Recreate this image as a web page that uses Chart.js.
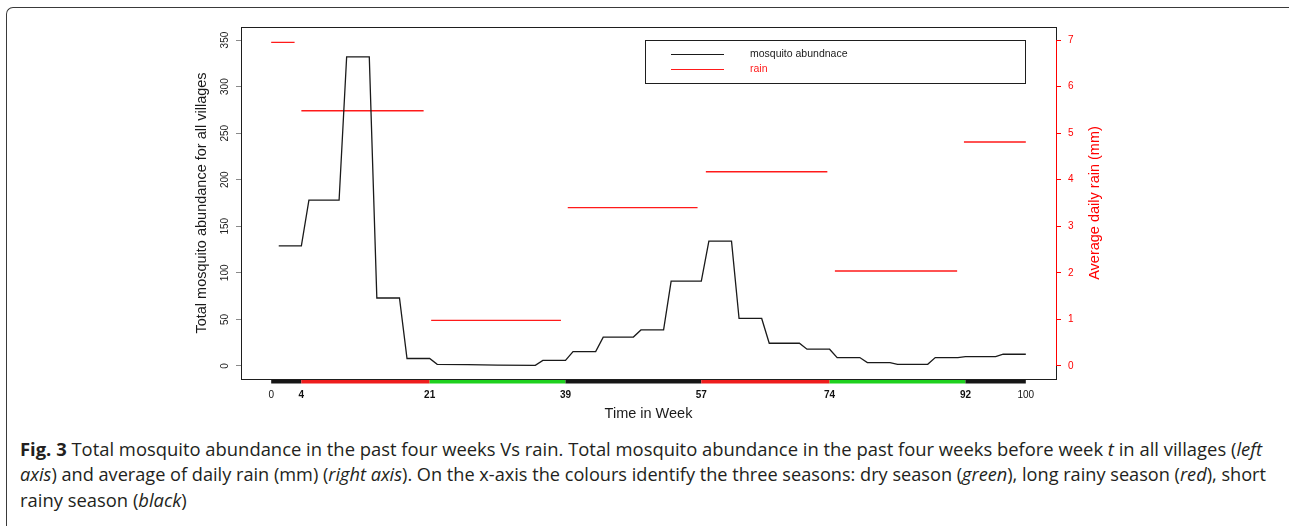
<!DOCTYPE html>
<html>
<head>
<meta charset="utf-8">
<script src="https://cdn.jsdelivr.net/npm/chart.js@4.4.1/dist/chart.umd.min.js"></script>
<style>
  html, body { margin: 0; padding: 0; background: #fff; }
  #wrap { position: relative; width: 1289px; height: 526px; overflow: hidden; }
  #frame { position: absolute; left: 6px; top: 7px; width: 1320px; height: 560px;
           border-left: 1px solid #3a3a3a; border-top: 1px solid #3a3a3a; border-top-left-radius: 7px; }
  #c { position: absolute; left: 0; top: 0; }
  .cap { position: absolute; left: 20px; white-space: nowrap; font-family: "Open Sans", sans-serif;
         font-size: 18px; line-height: 20px; color: #231f20; transform-origin: 0 50%; }
  .cap b { font-weight: 700; }
</style>
</head>
<body>
<div id="wrap">
  <div id="frame"></div>
  <canvas id="c" width="1289" height="430"></canvas>
  <div class="cap" id="cap1" data-w="1242" style="top:439px"><b>Fig. 3</b> Total mosquito abundance in the past four weeks Vs rain. Total mosquito abundance in the past four weeks before week <i>t</i> in all villages (<i>left</i></div>
  <div class="cap" id="cap2" data-w="1246" style="top:464px"><i>axis</i>) and average of daily rain (mm) (<i>right axis</i>). On the x-axis the colours identify the three seasons: dry season (<i>green</i>), long rainy season (<i>red</i>), short</div>
  <div class="cap" id="cap3" style="top:490px">rainy season (<i>black</i>)</div>
</div>
<script>
// Total mosquito abundance (past four weeks) at the corners of the weekly step line
const weeks = [1, 4, 5, 9, 10, 13, 14, 17, 18, 21, 22, 26, 30, 35, 36, 39, 40, 43, 44, 48, 49, 52,
               53, 57, 58, 61, 62, 65, 66, 70, 71, 74, 75, 78, 79, 82, 83, 87, 88, 91, 92, 96, 97, 100];
const abundance = [129, 129, 178, 178, 332, 332, 73, 73, 8, 8, 1.8, 1.5, 1, 0.6, 6, 6, 15.4, 15.4, 31, 31, 38.7, 38.7,
                   91, 91, 134, 134, 51, 51, 24.4, 24.4, 18, 18, 9, 9, 3.6, 3.6, 1.8, 1.8, 9, 9, 10, 10, 12.6, 12.6];

// Average daily rain (mm) per season
const rainStart = [0, 4, 21.2, 39.3, 57.6, 74.7, 91.8];
const rainEnd   = [3.1, 20.2, 38.4, 56.5, 73.7, 90.9, 100];
const rainValue = [6.95, 5.48, 0.98, 3.40, 4.17, 2.04, 4.81];

// Seasons along the time axis
const seasonBreaks = [0, 4, 21, 39, 57, 74, 92, 100];
const seasonKind = ['short', 'long', 'dry', 'short', 'long', 'dry', 'short'];
const seasonColour = { short: '#161616', long: '#ee1d1d', dry: '#1fd11f' };

// Tick labels
const weekTicks = [0, 4, 21, 39, 57, 74, 92, 100];
const abundanceTicks = [0, 50, 100, 150, 200, 250, 300, 350];
const rainTicks = [0, 1, 2, 3, 4, 5, 6, 7];

const FONT = '"Liberation Sans", Arial, Helvetica, sans-serif';
Chart.defaults.font.family = FONT;

const abundancePoints = weeks.map((w, i) => ({ x: w, y: abundance[i] }));
const rainPoints = [];
rainValue.forEach((v, i) => {
  rainPoints.push({ x: rainStart[i], y: v }, { x: rainEnd[i], y: v }, { x: rainEnd[i], y: null });
});

const frameAndDecor = {
  id: 'frameAndDecor',
  afterDraw(chart) {
    const { ctx, chartArea: a, scales } = chart;
    const xs = scales.x, r = scales.y2;
    ctx.save();

    // season band under the x axis
    for (let i = 0; i < seasonKind.length; i++) {
      const x0 = xs.getPixelForValue(seasonBreaks[i]);
      const x1 = xs.getPixelForValue(seasonBreaks[i + 1]);
      ctx.fillStyle = seasonColour[seasonKind[i]];
      ctx.fillRect(x0, a.bottom + 1, x1 - x0, 3.5);
    }

    // plot box
    ctx.strokeStyle = '#1e1e1e';
    ctx.lineWidth = 1;
    ctx.strokeRect(Math.round(a.left) + 0.5, Math.round(a.top) + 0.5,
                   Math.round(a.right - a.left), Math.round(a.bottom - a.top));

    // red rain axis line between the first and last tick
    ctx.strokeStyle = '#ff0000';
    ctx.beginPath();
    ctx.moveTo(Math.round(a.right) + 0.5, r.getPixelForValue(rainTicks[0]));
    ctx.lineTo(Math.round(a.right) + 0.5, r.getPixelForValue(rainTicks[rainTicks.length - 1]));
    ctx.stroke();

    // right axis title, reading upwards
    ctx.fillStyle = '#ff0000';
    ctx.font = '14.5px ' + FONT;
    ctx.textAlign = 'center';
    ctx.textBaseline = 'middle';
    ctx.translate(r.left + 38.5, (a.top + a.bottom) / 2);
    ctx.rotate(-Math.PI / 2);
    ctx.fillText('Average daily rain (mm)', 0, 0);
    ctx.restore();

    // legend box
    ctx.save();
    ctx.strokeStyle = '#1e1e1e';
    ctx.lineWidth = 1;
    ctx.strokeRect(645.5, 40.5, 380, 43);
    ctx.font = '10.5px ' + FONT;
    ctx.textBaseline = 'middle';
    ctx.textAlign = 'left';
    chart.data.datasets.forEach((ds, i) => {
      const y = 54.5 + i * 15;
      ctx.strokeStyle = ds.borderColor;
      ctx.lineWidth = 1.2;
      ctx.beginPath();
      ctx.moveTo(671, y);
      ctx.lineTo(724, y);
      ctx.stroke();
      ctx.fillStyle = ds.legendTextColour;
      ctx.fillText(ds.label, 750, y);
    });
    ctx.restore();
  }
};

new Chart(document.getElementById('c'), {
  type: 'line',
  data: {
    datasets: [
      { label: 'mosquito abundnace', data: abundancePoints, yAxisID: 'y',
        borderColor: '#1a1a1a', legendTextColour: '#1a1a1a', borderWidth: 1.3,
        pointRadius: 0, tension: 0, fill: false },
      { label: 'rain', data: rainPoints, yAxisID: 'y2', spanGaps: false,
        borderColor: '#ff1a1a', legendTextColour: '#ff1a1a', borderWidth: 1.4,
        pointRadius: 0, tension: 0, fill: false }
    ]
  },
  options: {
    responsive: false,
    devicePixelRatio: 1,
    animation: false,
    layout: { padding: { top: 27, left: 0, right: 0, bottom: 0 } },
    plugins: { legend: { display: false }, tooltip: { enabled: false } },
    scales: {
      x: {
        type: 'linear', position: 'bottom', min: -4, max: 104,
        afterBuildTicks: s => { s.ticks = weekTicks.map(v => ({ value: v })); },
        afterFit: s => { s.height = 51; },
        grid: { display: false },
        border: { display: false },
        ticks: {
          autoSkip: false, maxRotation: 0, padding: 2, color: '#111',
          font: c => ({ size: 10, weight: (c.tick && (c.tick.value === 0 || c.tick.value === 100)) ? 'normal' : 'bold' })
        },
        title: { display: true, text: 'Time in Week', color: '#1a1a1a',
                 font: { size: 14.5, lineHeight: 1.2 }, padding: { top: 0, bottom: 7.3 } }
      },
      y: {
        type: 'linear', position: 'left', min: -14, max: 364,
        afterBuildTicks: s => { s.ticks = abundanceTicks.map(v => ({ value: v })); },
        afterFit: s => { s.width = 241; },
        grid: { drawOnChartArea: false, drawTicks: true, tickLength: 5, color: '#8a8a8a' },
        border: { display: false },
        ticks: { minRotation: 90, maxRotation: 90, crossAlign: 'center', padding: 2,
                 color: '#222', font: { size: 10 } },
        title: { display: true, text: 'Total mosquito abundance for all villages', color: '#1a1a1a',
                 font: { size: 14.5, lineHeight: 1.2 }, padding: { top: 193.3, bottom: 0 } }
      },
      y2: {
        type: 'linear', position: 'right', min: -0.28, max: 7.28,
        afterBuildTicks: s => { s.ticks = rainTicks.map(v => ({ value: v })); },
        afterFit: s => { s.width = 233; },
        grid: { drawOnChartArea: false, drawTicks: true, tickLength: 5, color: '#ff0000' },
        border: { display: false },
        ticks: { padding: 7, color: '#ff0000', font: { size: 10 } }
      }
    }
  },
  plugins: [frameAndDecor]
});

// condense the caption lines: each full line is fitted to the text column,
// the short last line takes the same factor as the first one
function fitCaption() {
  let k = 1;
  document.querySelectorAll('.cap').forEach(el => {
    el.style.transform = 'none';
    const w = el.getBoundingClientRect().width;
    if (el.dataset.w) {
      const f = parseFloat(el.dataset.w) / w;
      if (el.id === 'cap1') k = f;
      el.style.transform = 'scaleX(' + f + ')';
    } else {
      el.style.transform = 'scaleX(' + k + ')';
    }
  });
}
fitCaption();
if (document.fonts && document.fonts.ready) document.fonts.ready.then(fitCaption);
</script>
</body>
</html>
